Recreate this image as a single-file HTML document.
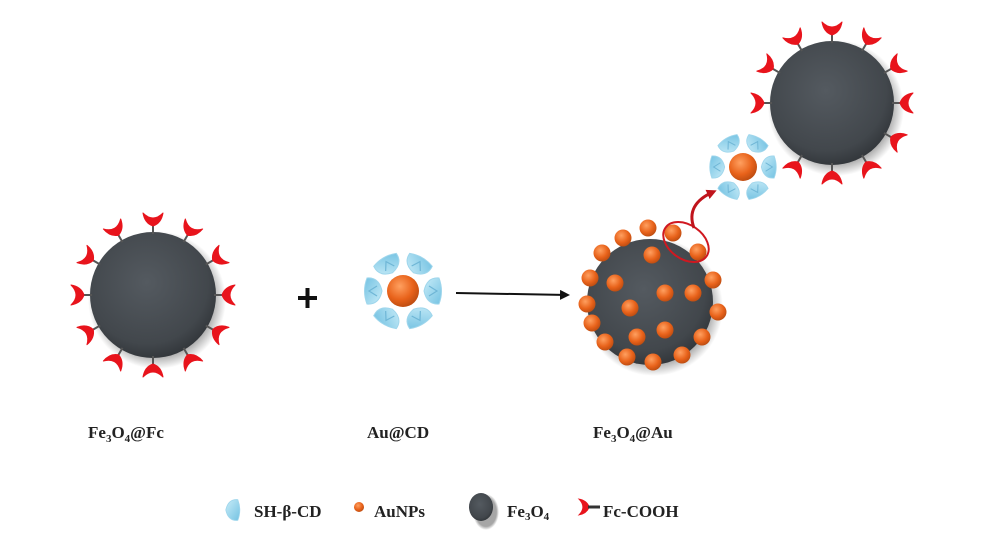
<!DOCTYPE html>
<html><head><meta charset="utf-8"><style>
html,body{margin:0;padding:0;background:#fff;}
svg{display:block}
text{font-family:"Liberation Serif",serif;font-weight:bold;fill:#222;}
</style></head><body>
<svg id="s" width="1000" height="550" viewBox="0 0 1000 550" xmlns="http://www.w3.org/2000/svg">
<defs>
<radialGradient id="sph" cx="0.45" cy="0.4" r="0.65">
<stop offset="0" stop-color="#545a60"/><stop offset="0.75" stop-color="#42474c"/><stop offset="1" stop-color="#2e3236"/>
</radialGradient>
<radialGradient id="shadow" cx="0.5" cy="0.5" r="0.5">
<stop offset="0.8" stop-color="#000" stop-opacity="0.35"/><stop offset="1" stop-color="#000" stop-opacity="0"/>
</radialGradient>
<radialGradient id="au" cx="0.4" cy="0.35" r="0.7">
<stop offset="0" stop-color="#ffa060"/><stop offset="0.6" stop-color="#e8621a"/><stop offset="1" stop-color="#b84a10"/>
</radialGradient>
<linearGradient id="pet" x1="0" y1="0" x2="1" y2="1">
<stop offset="0" stop-color="#c8ecf8"/><stop offset="1" stop-color="#74c2e2"/>
</linearGradient>
<marker id="ah" markerWidth="10" markerHeight="10" refX="8" refY="5" orient="auto" markerUnits="userSpaceOnUse">
<path d="M0,0 L10,5 L0,10 Z" fill="#111"/></marker>
<marker id="rh" markerWidth="10" markerHeight="10" refX="6" refY="5" orient="auto" markerUnits="userSpaceOnUse">
<path d="M0,0 L10,5 L0,10 Z" fill="#c0141c"/></marker>
</defs>
<g id="g"></g>
<path d="M298,298 H317 M307.5,288 V308" stroke="#111" stroke-width="4"/>
<line x1="456" y1="293" x2="568" y2="295" stroke="#111" stroke-width="2" marker-end="url(#ah)"/>
<text x="88" y="438" font-size="17">Fe<tspan font-size="11" dy="4">3</tspan><tspan dy="-4">O</tspan><tspan font-size="11" dy="4">4</tspan><tspan dy="-4">@Fc</tspan></text>
<text x="367" y="438" font-size="17">Au@CD</text>
<text x="593" y="438" font-size="17">Fe<tspan font-size="11" dy="4">3</tspan><tspan dy="-4">O</tspan><tspan font-size="11" dy="4">4</tspan><tspan dy="-4">@Au</tspan></text>
<text x="254" y="517" font-size="17">SH-β-CD</text>
<text x="374" y="517" font-size="17">AuNPs</text>
<text x="507" y="517" font-size="17">Fe<tspan font-size="11" dy="3">3</tspan><tspan dy="-3">O</tspan><tspan font-size="11" dy="3">4</tspan></text>
<text x="603" y="517" font-size="17">Fc-COOH</text>
</svg>
<script>
const g=document.getElementById('g');
let h='';
function sphere(cx,cy,r){h+=`<circle cx="${cx+4}" cy="${cy+5}" r="${r+6}" fill="url(#shadow)"/><circle cx="${cx}" cy="${cy}" r="${r}" fill="url(#sph)"/>`;}
const REC="M6,0 C8,-6 13,-9 19,-10 C15,-6 14,-3 14,0 C14,3 15,6 19,10 C13,9 8,6 6,0 Z";
function rec(cx,cy,r,a){const x=cx+r*Math.cos(a),y=cy+r*Math.sin(a),d=a*180/Math.PI;
h+=`<g transform="translate(${x},${y}) rotate(${d})"><line x1="-2" y1="0" x2="9" y2="0" stroke="#555" stroke-width="2"/><path d="${REC}" fill="#e8141c" stroke="#e8141c" stroke-width="1" stroke-linejoin="round"/></g>`;}
function au(x,y,r){h+=`<circle cx="${x}" cy="${y}" r="${r}" fill="url(#au)"/>`;}
function cd(cx,cy,rc,dist,s){for(let i=0;i<6;i++){const a=i*60;h+=`<g transform="translate(${cx},${cy}) rotate(${a}) translate(${dist},0) scale(${s})"><path d="M-9,0 Q-6,-14 6,-13 Q11,0 6,13 Q-6,14 -9,0 Z" fill="url(#pet)" stroke="#9fd6ec" stroke-width="1"/><path d="M-4,-5 L4,0 L-4,5" stroke="#6fb6d6" stroke-width="1.2" fill="none"/></g>`;}au(cx,cy,rc);}
sphere(153,295,63);for(let i=0;i<12;i++)rec(153,295,63,(i*30-90)*Math.PI/180);
cd(403,291,16,30,1);
sphere(650,302,63);
[[648,228],[623,238],[602,253],[590,278],[587,304],[592,323],[605,342],[627,357],[653,362],[682,355],[702,337],[718,312],[713,280],[673,233],[698,252],[652,255],[615,283],[665,293],[693,293],[630,308],[665,330],[637,337]].forEach(p=>au(p[0],p[1],8.5));
h+=`<ellipse cx="686" cy="242" rx="25" ry="17" transform="rotate(35 686 242)" fill="none" stroke="#d01820" stroke-width="2"/>`;
h+=`<path d="M694,228 C688,212 695,200 713,192" fill="none" stroke="#c0141c" stroke-width="3" marker-end="url(#rh)"/>`;
sphere(832,103,62);for(let i=0;i<12;i++){const d=i*30-90;if(d==150)continue;rec(832,103,62,d*Math.PI/180);}
cd(743,167,14,26,0.85);
h+=`<g transform="translate(233,510) scale(0.8)"><path d="M-9,0 Q-6,-14 6,-13 Q11,0 6,13 Q-6,14 -9,0 Z" fill="url(#pet)" stroke="#9fd6ec"/></g>`;
au(359,507,5);
h+=`<ellipse cx="486" cy="512" rx="13" ry="18" fill="url(#shadow)"/><ellipse cx="481" cy="507" rx="12" ry="14" fill="url(#sph)"/>`;
h+=`<g transform="translate(594,507) rotate(180) scale(0.8)"><path d="${REC}" fill="#e8141c" stroke="#e8141c"/></g><line x1="588" y1="507" x2="600" y2="507" stroke="#333" stroke-width="3"/>`;
g.innerHTML=h;
</script>
</body></html>
